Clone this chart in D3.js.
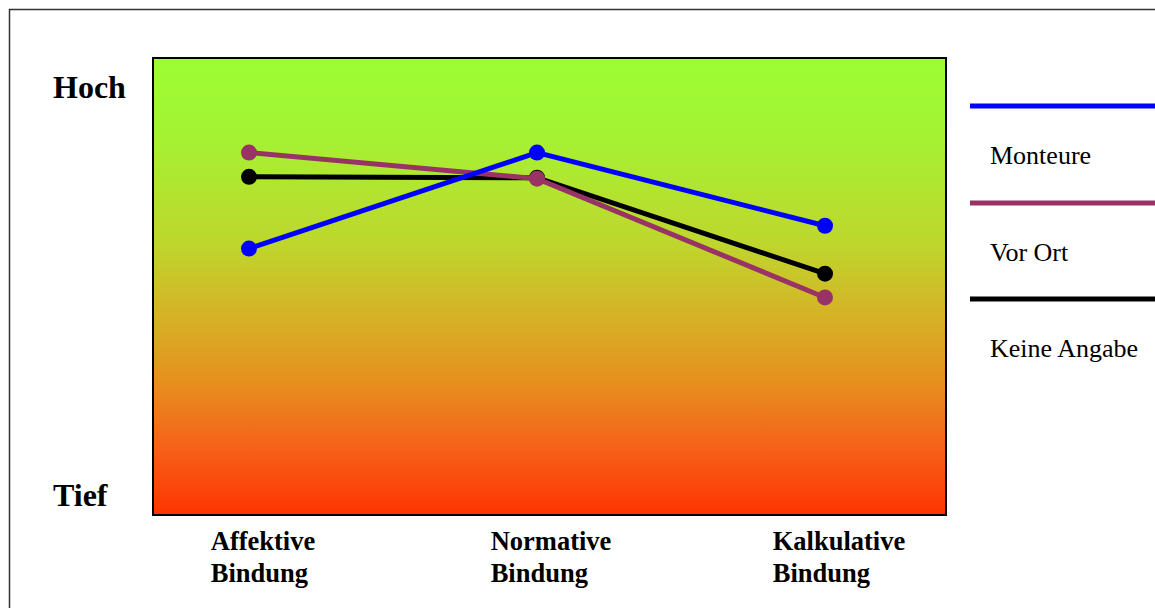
<!DOCTYPE html>
<html>
<head>
<meta charset="utf-8">
<script src="https://cdn.jsdelivr.net/npm/d3@7"></script>
<style>
  html, body { margin: 0; padding: 0; background: #fff; }
  svg { display: block; }
</style>
</head>
<body>
<svg id="chart" width="1155" height="608"></svg>
<script>
// Kategorien der Bindung (x-Achse)
const categories = [["Affektive", "Bindung"], ["Normative", "Bindung"], ["Kalkulative", "Bindung"]];
// Skalenenden (y-Achse)
const levelLabels = ["Tief", "Hoch"];
// Gruppen und ihre Ausprägung (0 = Tief, 100 = Hoch)
const seriesNames = ["Monteure", "Vor Ort", "Keine Angabe"];
const monteure    = [58.3, 79.3, 63.3];
const vorOrt      = [79.3, 73.6, 47.6];
const keineAngabe = [74.0, 73.8, 52.8];
const seriesColors = ["#0000ff", "#993366", "#000000"];

const FONT = "'Liberation Serif', 'Times New Roman', serif";
const svg = d3.select("#chart");
const W = 1155, H = 608;
const plot = { left: 153, top: 58, right: 946, bottom: 515 };

// Äußerer Rahmen
svg.append("rect")
  .attr("x", 9.5).attr("y", 9.5)
  .attr("width", W + 10).attr("height", H + 10)
  .attr("fill", "none").attr("stroke", "#333").attr("stroke-width", 1.5);

// Farbverlauf: grün (hoch) bis rot (tief)
const defs = svg.append("defs");
const grad = defs.append("linearGradient")
  .attr("id", "bg").attr("x1", 0).attr("y1", 0).attr("x2", 0).attr("y2", 1);
[[0, "#9cfd33"], [0.15, "#a3f433"], [0.4, "#bed72d"], [0.55, "#d4b527"],
 [0.7, "#e6921f"], [0.85, "#f6621a"], [1, "#ff3300"]].forEach(([o, c]) =>
  grad.append("stop").attr("offset", o).attr("stop-color", c));

const x = d3.scalePoint()
  .domain(d3.range(categories.length))
  .range([249, 825]);
const y = d3.scaleLinear().domain([0, 100]).range([plot.bottom, plot.top]);

svg.append("rect")
  .attr("x", plot.left).attr("y", plot.top)
  .attr("width", plot.right - plot.left).attr("height", plot.bottom - plot.top)
  .attr("fill", "url(#bg)").attr("stroke", "#000").attr("stroke-width", 2);

// Skalenbeschriftung links
svg.append("text").text(levelLabels[1])
  .attr("x", 53).attr("y", 98)
  .attr("font-family", FONT)
  .attr("font-weight", "bold").attr("font-size", 32).attr("fill", "#000");
svg.append("text").text(levelLabels[0])
  .attr("x", 53).attr("y", 506)
  .attr("font-family", FONT)
  .attr("font-weight", "bold").attr("font-size", 32).attr("fill", "#000");

// Kategorienbeschriftung unten: zweizeilig, linksbündig im Block
const catG = svg.append("g")
  .attr("font-family", FONT)
  .attr("font-weight", "bold").attr("font-size", 26.5).attr("fill", "#000");
categories.forEach((lines, i) => {
  const xc = x(i) + 14;
  const tmp = catG.append("text").text(lines[0]).attr("x", 0).attr("y", -1000);
  const w = Math.max(tmp.node().getComputedTextLength(),
    tmp.text(lines[1]).node().getComputedTextLength());
  tmp.remove();
  lines.forEach((ln, j) =>
    catG.append("text").text(ln)
      .attr("x", xc - w / 2).attr("y", 550 + j * 32));
});

// Linien und Punkte (Monteure liegt oben)
const allSeries = [monteure, vorOrt, keineAngabe];
const line = d3.line().x((d, i) => x(i)).y(d => y(d));
for (let s = allSeries.length - 1; s >= 0; s--) {
  const vals = allSeries[s];
  svg.append("path").datum(vals)
    .attr("d", line).attr("fill", "none")
    .attr("stroke", seriesColors[s]).attr("stroke-width", 5);
  svg.selectAll(null).data(vals).enter().append("circle")
    .attr("cx", (d, i) => x(i)).attr("cy", d => y(d)).attr("r", 8)
    .attr("fill", seriesColors[s]);
}

// Legende rechts
const legendY = [106, 203, 299];
seriesNames.forEach((name, i) => {
  svg.append("line")
    .attr("x1", 970).attr("x2", W)
    .attr("y1", legendY[i]).attr("y2", legendY[i])
    .attr("stroke", seriesColors[i]).attr("stroke-width", 5);
  svg.append("text").text(name)
    .attr("x", 990).attr("y", legendY[i] + 58)
    .attr("font-family", FONT)
    .attr("font-size", 26).attr("fill", "#000");
});
</script>
</body>
</html>
